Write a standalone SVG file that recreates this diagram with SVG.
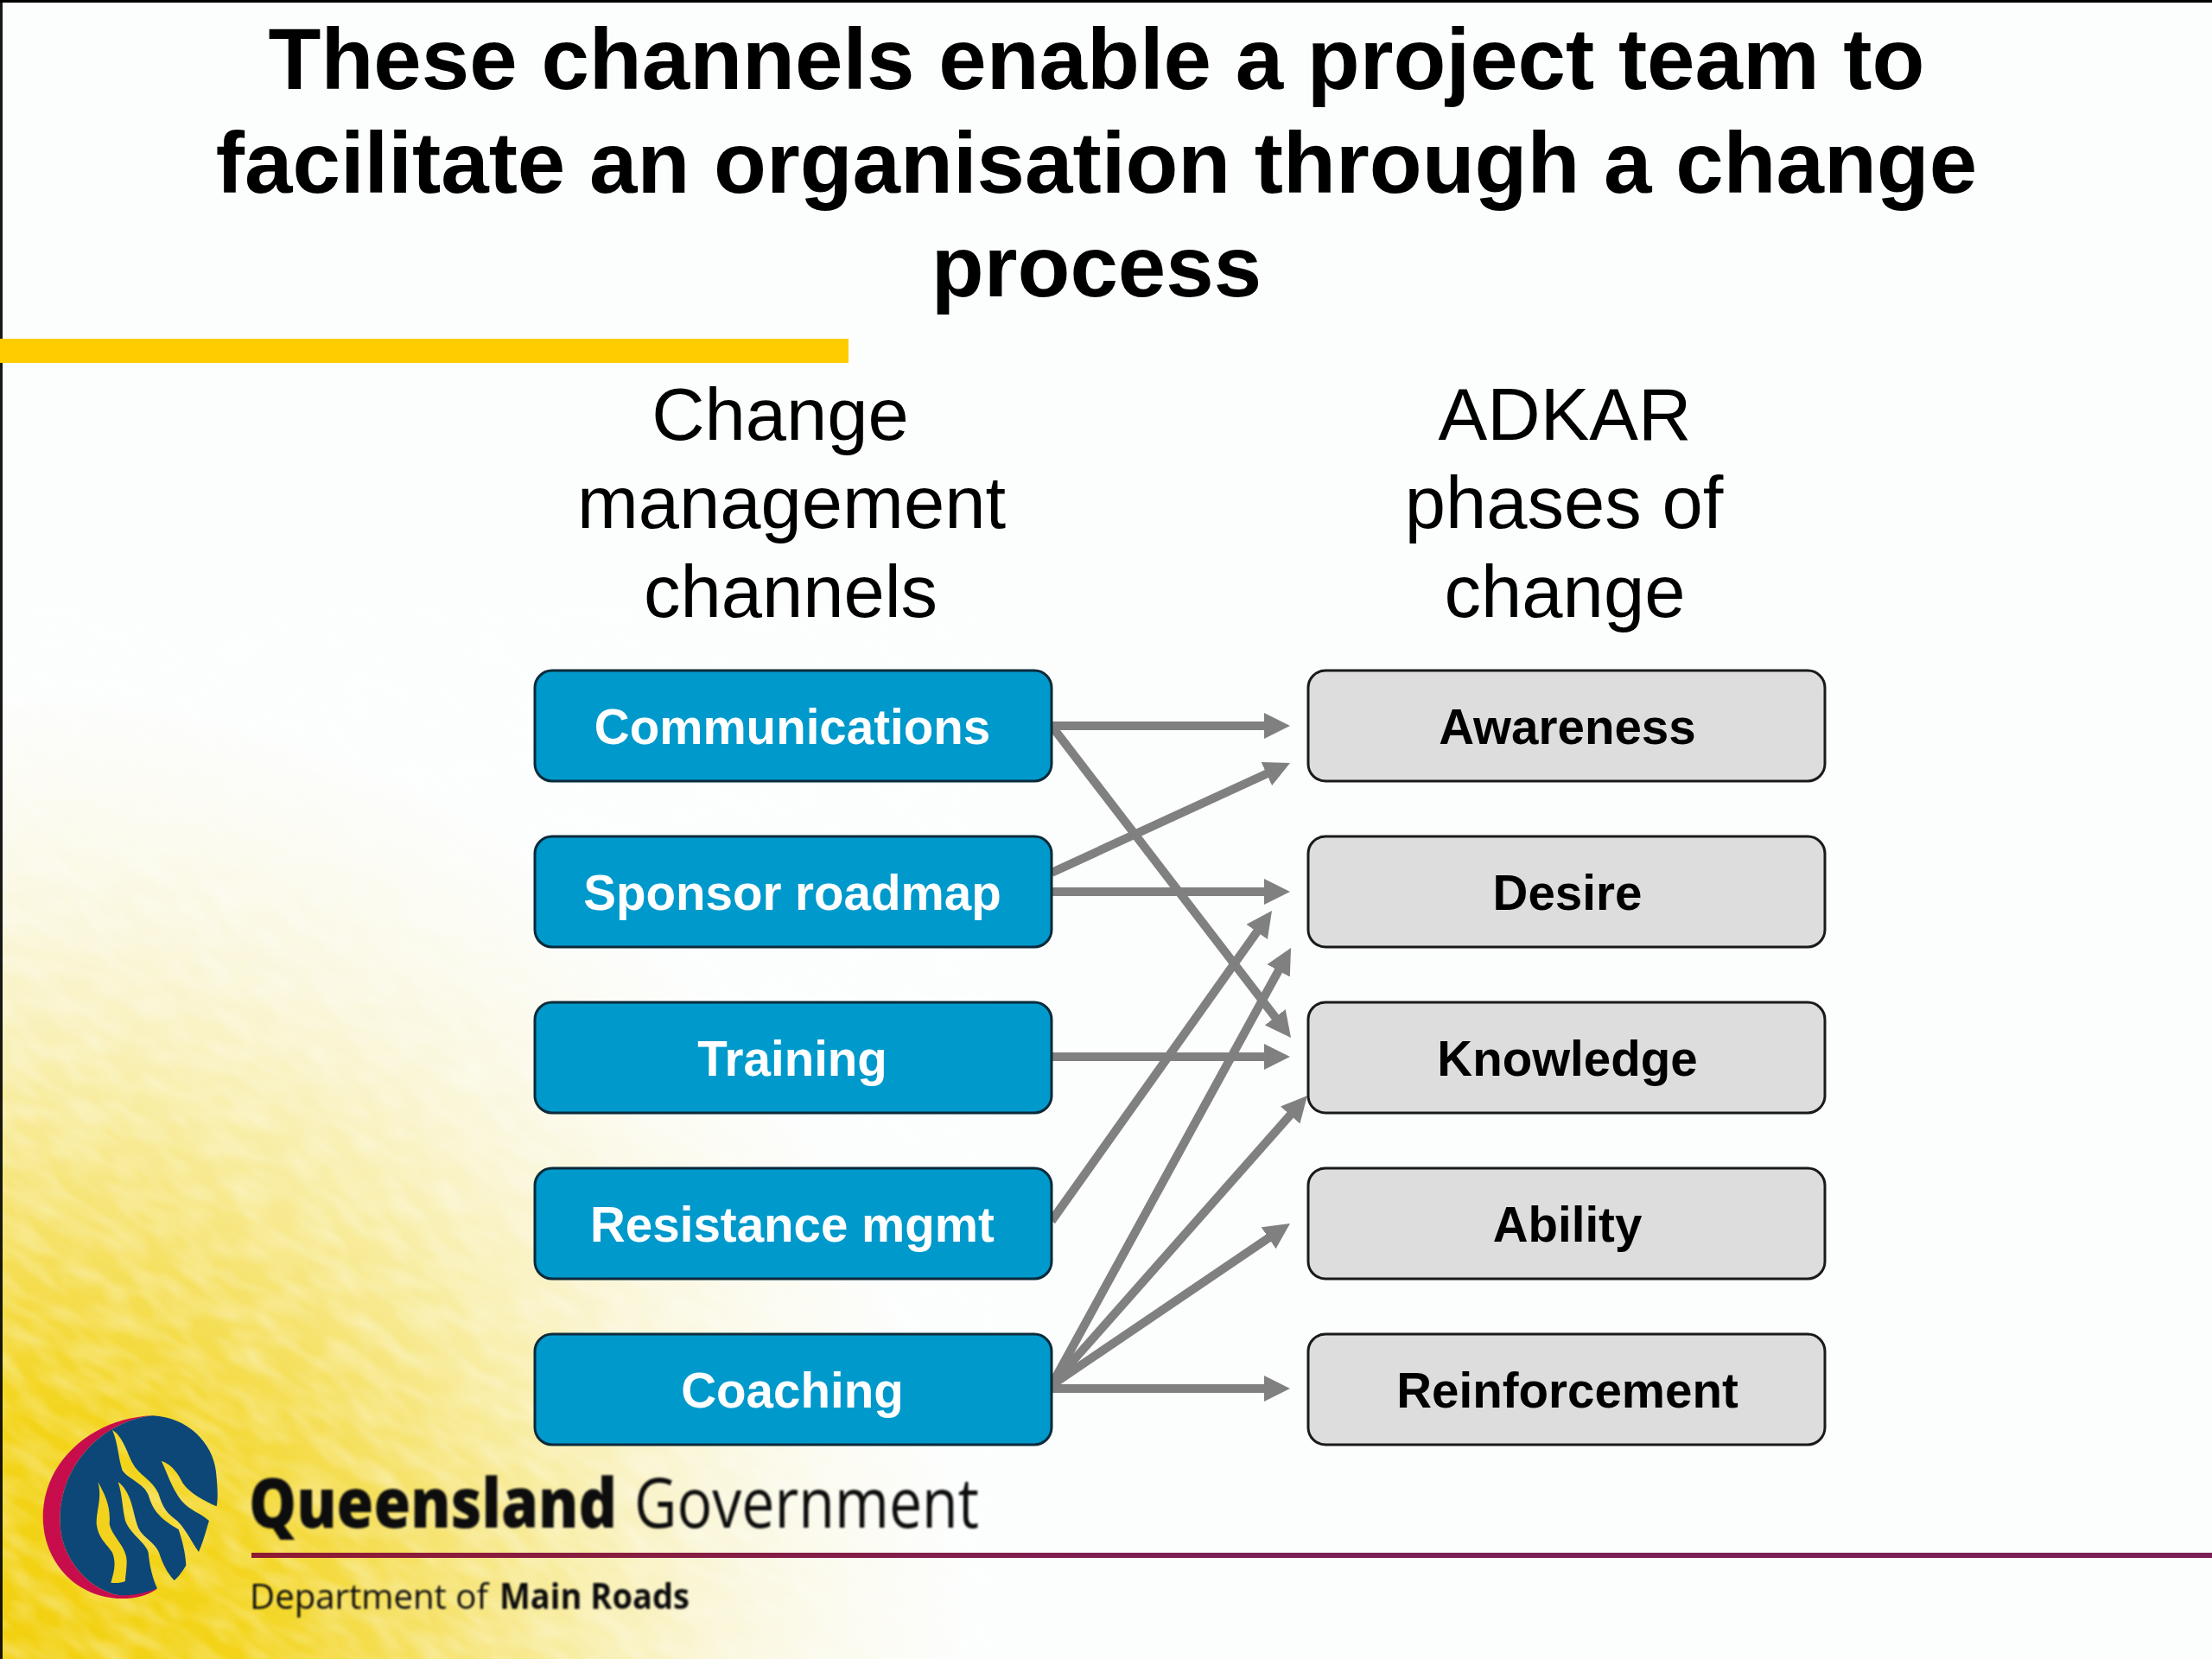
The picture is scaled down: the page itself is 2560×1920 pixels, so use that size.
<svg xmlns="http://www.w3.org/2000/svg" width="2560" height="1920" viewBox="0 0 2560 1920">
<style>
.title{font:bold 99.7px "Liberation Sans",Arial,sans-serif;fill:#000;text-anchor:middle}
.head{font:85px "Liberation Sans",Arial,sans-serif;fill:#000;text-anchor:middle}
.lbl{font:bold 56.5px "Liberation Sans",Arial,sans-serif;text-anchor:middle}
.ch rect{fill:#0099cc;stroke:#0b2a3a;stroke-width:3}
.ch text{fill:#fff}
.ad rect{fill:#dddddd;stroke:#1a1a1a;stroke-width:3}
.ad text{fill:#000}
#connectors line{stroke:#808080;stroke-width:10;marker-end:url(#ah)}
.qg{font-family:"Open Sans","Noto Sans",sans-serif;fill:#111}
</style>
<defs>
<marker id="ah" markerUnits="userSpaceOnUse" markerWidth="30" markerHeight="30" viewBox="0 0 30 30" refX="2" refY="15" orient="auto"><path d="M0,0L30,15L0,30z" fill="#808080"/></marker>
<radialGradient id="sun" gradientUnits="userSpaceOnUse" cx="0" cy="1920" r="1130">
<stop offset="0" stop-color="#f2d010"/><stop offset=".25" stop-color="#f3d41a"/>
<stop offset=".4" stop-color="#f3d62a" stop-opacity=".8"/><stop offset=".6" stop-color="#f4da40" stop-opacity=".45"/>
<stop offset=".75" stop-color="#f4dc60" stop-opacity=".22"/><stop offset=".87" stop-color="#f4de70" stop-opacity=".1"/>
<stop offset="1" stop-color="#f4de70" stop-opacity="0"/>
</radialGradient>
<linearGradient id="rule" gradientUnits="userSpaceOnUse" x1="291" y1="0" x2="1400" y2="0"><stop offset="0" stop-color="#8f1c34"/><stop offset="1" stop-color="#7c1f55"/></linearGradient>
<filter id="mott" x="0" y="0" width="1" height="1" color-interpolation-filters="sRGB">
<feTurbulence type="fractalNoise" baseFrequency="0.02 0.05" numOctaves="2" seed="7"/>
<feColorMatrix values="0 0 0 0 1 0 0 0 0 1 0 0 0 0 1 1.6 0 0 0 -0.55"/>
</filter>
<filter id="soft" x="-5%" y="-5%" width="110%" height="110%"><feGaussianBlur stdDeviation="1"/></filter>
<clipPath id="bgclip"><rect x="0" y="700" width="1150" height="1220"/></clipPath>
</defs>
<rect width="2560" height="1920" fill="#fcfefe"/>
<g id="background" clip-path="url(#bgclip)">
<circle cx="0" cy="1920" r="1130" fill="url(#sun)"/>
<g transform="rotate(32 600 1400)" opacity=".4"><rect x="-400" y="500" width="2000" height="2000" filter="url(#mott)"/></g>
</g>
<rect x="0" y="0" width="2560" height="3" fill="#000"/>
<rect x="0" y="0" width="3" height="1920" fill="#000" opacity=".9"/>
<rect x="0" y="392" width="982" height="28" fill="#ffcc00"/>
<g id="title">
<text class="title" x="1269" y="103">These channels enable a project team to</text>
<text class="title" x="1269" y="223">facilitate an organisation through a change</text>
<text class="title" x="1269" y="343">process</text>
</g>
<g id="head-left">
<text class="head" x="903" y="509">Change</text>
<text class="head" x="916" y="611">management</text>
<text class="head" x="915" y="714">channels</text>
</g>
<g id="head-right">
<text class="head" x="1811" y="509">ADKAR</text>
<text class="head" x="1810" y="611">phases of</text>
<text class="head" x="1811" y="714">change</text>
</g>
<g id="connectors">
<line x1="1217" y1="840" x2="1465" y2="840"/>
<line x1="1217" y1="840" x2="1477" y2="1178.8"/>
<line x1="1217" y1="1010" x2="1467.6" y2="894.7"/>
<line x1="1217" y1="1032" x2="1465" y2="1032"/>
<line x1="1217" y1="1223" x2="1465" y2="1223"/>
<line x1="1217" y1="1413" x2="1455.8" y2="1076.8"/>
<line x1="1217" y1="1603" x2="1480.6" y2="1121.6"/>
<line x1="1217" y1="1603" x2="1494.5" y2="1289"/>
<line x1="1217" y1="1603" x2="1469.8" y2="1431.7"/>
<line x1="1217" y1="1607" x2="1465" y2="1607"/>
</g>
<g id="n-communications" class="ch"><rect x="619" y="776" width="598" height="128" rx="20"/><text class="lbl" x="917" y="861">Communications</text></g>
<g id="n-sponsor" class="ch"><rect x="619" y="968" width="598" height="128" rx="20"/><text class="lbl" x="917" y="1053">Sponsor roadmap</text></g>
<g id="n-training" class="ch"><rect x="619" y="1160" width="598" height="128" rx="20"/><text class="lbl" x="917" y="1245">Training</text></g>
<g id="n-resistance" class="ch"><rect x="619" y="1352" width="598" height="128" rx="20"/><text class="lbl" x="917" y="1437">Resistance mgmt</text></g>
<g id="n-coaching" class="ch"><rect x="619" y="1544" width="598" height="128" rx="20"/><text class="lbl" x="917" y="1629">Coaching</text></g>
<g id="n-awareness" class="ad"><rect x="1514" y="776" width="598" height="128" rx="20"/><text class="lbl" x="1814" y="861">Awareness</text></g>
<g id="n-desire" class="ad"><rect x="1514" y="968" width="598" height="128" rx="20"/><text class="lbl" x="1814" y="1053">Desire</text></g>
<g id="n-knowledge" class="ad"><rect x="1514" y="1160" width="598" height="128" rx="20"/><text class="lbl" x="1814" y="1245">Knowledge</text></g>
<g id="n-ability" class="ad"><rect x="1514" y="1352" width="598" height="128" rx="20"/><text class="lbl" x="1814" y="1437">Ability</text></g>
<g id="n-reinforcement" class="ad"><rect x="1514" y="1544" width="598" height="128" rx="20"/><text class="lbl" x="1814" y="1629">Reinforcement</text></g>
<g id="logo">
<g transform="translate(30 1620) scale(.3333)" filter="url(#soft)">
<path fill="#c8104e" d="M440,55C300,60 170,130 100,250C50,340 45,450 90,540C140,640 240,695 350,690C400,688 440,670 456,655L320,678C230,660 150,580 125,480C105,380 130,260 215,170C270,110 350,65 440,55Z"/>
<path fill="#0f4677" d="M440,55C560,60 650,150 660,250C665,300 668,340 662,370C620,350 575,330 545,290C530,260 510,225 470,212C490,250 505,305 540,350C570,385 610,395 636,420C625,455 615,495 600,528C575,495 560,455 525,420C490,395 475,375 460,325C440,280 390,260 370,220C350,180 335,125 300,105C320,150 320,200 335,245C355,275 410,290 425,330C440,380 460,410 530,450C545,495 555,540 556,575C540,600 530,615 515,627C490,600 475,570 462,530C445,490 395,475 385,430C370,380 365,320 320,285C335,330 335,380 345,420C365,470 415,495 425,530C430,580 440,620 456,655C410,675 350,682 320,678C230,660 150,580 125,480C105,380 130,260 215,170C270,110 350,65 440,55Z"/>
<path fill="#f2d21c" d="M250,285C275,330 295,370 290,430C295,470 350,510 350,560C350,590 345,615 345,630C330,636 310,638 295,635C305,600 315,570 300,530C280,500 250,480 245,430C245,380 265,340 250,285Z"/>
</g>
<g filter="url(#soft)">
<text class="qg" x="288" y="1768" font-size="80" font-weight="800" textLength="426" lengthAdjust="spacingAndGlyphs">Queensland</text>
<text class="qg" x="734" y="1768" font-size="80" textLength="399" lengthAdjust="spacingAndGlyphs">Government</text>
<text class="qg" x="289" y="1862" font-size="41" textLength="276" lengthAdjust="spacingAndGlyphs">Department of</text>
<text class="qg" x="578" y="1862" font-size="41" font-weight="700" textLength="220" lengthAdjust="spacingAndGlyphs">Main Roads</text>
</g>
<rect x="291" y="1797" width="2269" height="6" fill="url(#rule)"/>
</g>
</svg>
